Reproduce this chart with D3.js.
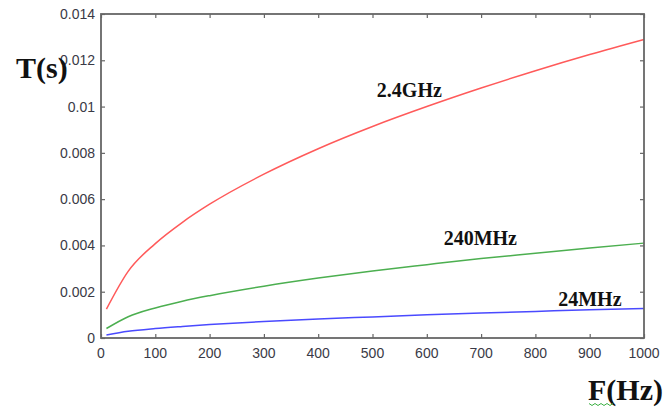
<!DOCTYPE html>
<html>
<head>
<meta charset="utf-8">
<script src="https://cdn.jsdelivr.net/npm/d3@7"></script>
<style>
  html, body { margin: 0; padding: 0; background: #fff; }
  svg { display: block; }
  .tick-label { font-family: "Liberation Sans", Arial, sans-serif; font-size: 14px; fill: #3a3a46; }
  .big-label { font-family: "Liberation Serif", "Times New Roman", serif; font-weight: bold; fill: #111; }
</style>
</head>
<body>
<div id="chart"></div>
<script>
// ── Data ──
const freq = [10, 50, 100, 150, 200, 300, 400, 500, 600, 700, 800, 900, 1000];
const t24GHz = [0.00125, 0.00288, 0.00408, 0.0050, 0.00578, 0.00708, 0.00818, 0.00914, 0.0100, 0.0108, 0.01155, 0.01225, 0.0129];
const t240MHz = [0.00041, 0.00092, 0.0013, 0.00159, 0.00183, 0.00224, 0.00259, 0.0029, 0.00317, 0.00343, 0.00366, 0.00389, 0.0041];
const t24MHz = [0.00013, 0.00029, 0.00041, 0.0005, 0.00058, 0.00071, 0.00082, 0.00091, 0.001, 0.00108, 0.00115, 0.00122, 0.00128];
const xTicks = [0, 100, 200, 300, 400, 500, 600, 700, 800, 900, 1000];
const yTicks = [0, 0.002, 0.004, 0.006, 0.008, 0.01, 0.012, 0.014];
const yTickLabels = ['0', '0.002', '0.004', '0.006', '0.008', '0.01', '0.012', '0.014'];

const series = [
  { name: '2.4GHz', values: t24GHz, color: '#ff5a5a', labelF: 508, labelT: 0.0104 },
  { name: '240MHz', values: t240MHz, color: '#4caf50', labelF: 631, labelT: 0.0040 },
  { name: '24MHz', values: t24MHz, color: '#4a4aff', labelF: 842, labelT: 0.0014 }
];

const width = 667, height = 409;
const plot = { left: 101, right: 644, top: 14, bottom: 338 };

const svg = d3.select('#chart').append('svg')
  .attr('width', width).attr('height', height);

const x = d3.scaleLinear().domain([0, 1000]).range([plot.left, plot.right]);
const y = d3.scaleLinear().domain([0, 0.014]).range([plot.bottom, plot.top]);

// ── Curves ──
const line = d3.line()
  .x(function(d) { return x(d[0]); })
  .y(function(d) { return y(d[1]); })
  .curve(d3.curveMonotoneX);

series.forEach(function(s) {
  svg.append('path')
    .datum(freq.map(function(f, i) { return [f, s.values[i]]; }))
    .attr('fill', 'none')
    .attr('stroke', s.color)
    .attr('stroke-width', 1.5)
    .attr('d', line);
});

// ── Axes (box with inward ticks on all sides) ──
const axisColor = '#666';
const tickLen = 4;

function styleAxis(g) {
  g.select('.domain').remove();
  g.selectAll('.tick line').attr('stroke', axisColor).attr('stroke-width', 1.2);
}

svg.append('g').attr('transform', 'translate(0,' + plot.bottom + ')')
  .call(d3.axisBottom(x).tickValues(xTicks).tickSize(-tickLen).tickFormat(''))
  .call(styleAxis);
svg.append('g').attr('transform', 'translate(0,' + plot.top + ')')
  .call(d3.axisTop(x).tickValues(xTicks).tickSize(-tickLen).tickFormat(''))
  .call(styleAxis);
svg.append('g').attr('transform', 'translate(' + plot.left + ',0)')
  .call(d3.axisLeft(y).tickValues(yTicks).tickSize(-tickLen).tickFormat(''))
  .call(styleAxis);
svg.append('g').attr('transform', 'translate(' + plot.right + ',0)')
  .call(d3.axisRight(y).tickValues(yTicks).tickSize(-tickLen).tickFormat(''))
  .call(styleAxis);

svg.append('rect')
  .attr('x', plot.left).attr('y', plot.top)
  .attr('width', plot.right - plot.left).attr('height', plot.bottom - plot.top)
  .attr('fill', 'none').attr('stroke', axisColor).attr('stroke-width', 1.8);

// ── Tick labels ──
svg.append('g').selectAll('text').data(xTicks).join('text')
  .attr('class', 'tick-label')
  .attr('x', function(d) { return x(d); })
  .attr('y', 358)
  .attr('text-anchor', 'middle')
  .text(function(d) { return d; });

svg.append('g').selectAll('text').data(yTicks).join('text')
  .attr('class', 'tick-label')
  .attr('x', 95)
  .attr('y', function(d) { return y(d) + 5; })
  .attr('text-anchor', 'end')
  .text(function(d, i) { return yTickLabels[i]; });

// ── Curve labels ──
series.forEach(function(s) {
  svg.append('text')
    .attr('class', 'big-label')
    .attr('font-size', 20)
    .attr('x', x(s.labelF))
    .attr('y', y(s.labelT))
    .text(s.name);
});

// ── Axis titles ──
svg.append('text').attr('class', 'big-label')
  .attr('font-size', 30)
  .attr('x', 16).attr('y', 78)
  .text('T(s)');

svg.append('text').attr('class', 'big-label')
  .attr('font-size', 30)
  .attr('x', 588).attr('y', 400)
  .text('F(Hz)');

// spell-check squiggle under the F
const squiggle = d3.range(0, 9).map(function(i) { return [589 + i * 3, 404 + (i % 2 ? 1.5 : -0.5)]; });
svg.append('path')
  .attr('d', d3.line()(squiggle))
  .attr('fill', 'none').attr('stroke', '#3cb043').attr('stroke-width', 1);
</script>
</body>
</html>
